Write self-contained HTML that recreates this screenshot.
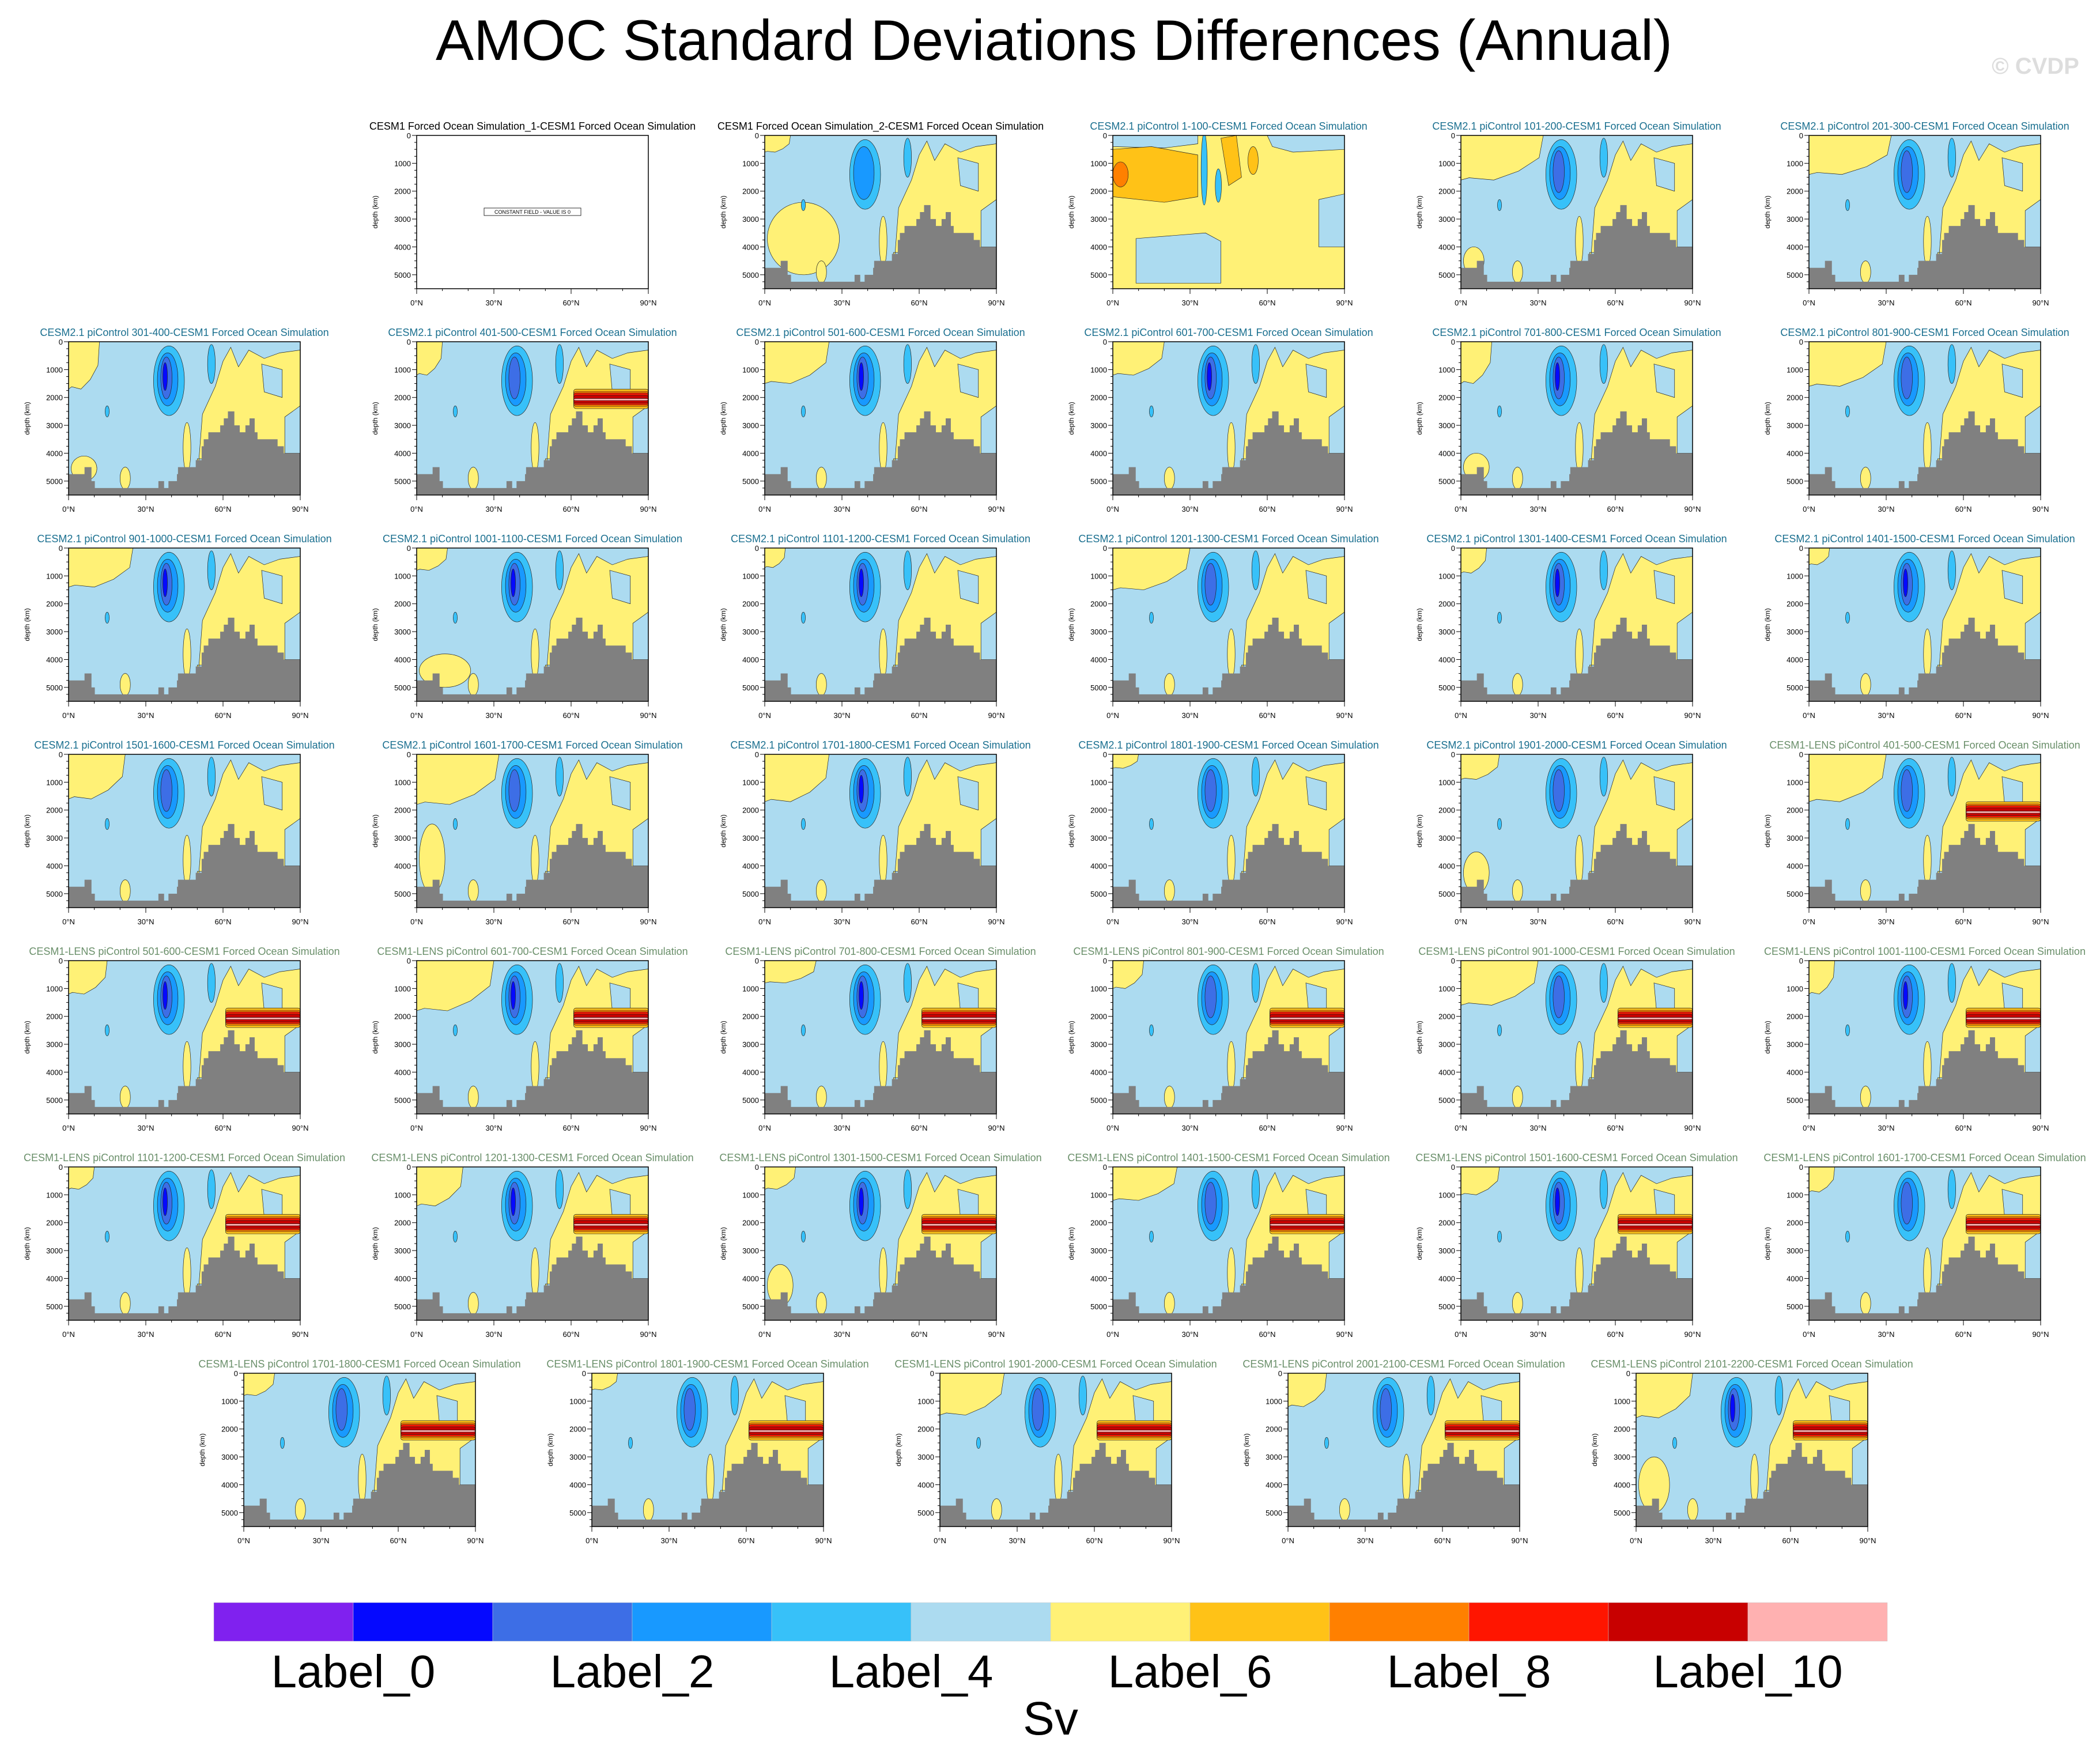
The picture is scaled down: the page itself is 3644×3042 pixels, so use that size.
<!DOCTYPE html>
<html><head><meta charset="utf-8">
<style>
html,body{margin:0;padding:0;background:#fff;}
svg{display:block;font-family:"Liberation Sans",Arial,sans-serif;}
</style></head>
<body>
<svg id="fig" width="3644" height="3042" viewBox="0 0 3644 3042" xmlns="http://www.w3.org/2000/svg">
<rect x="0" y="0" width="3644" height="3042" fill="#fff"/>
<text x="1829" y="104" font-size="99" text-anchor="middle" textLength="2146" lengthAdjust="spacingAndGlyphs">AMOC Standard Deviations Differences (Annual)</text>
<text x="3532" y="128" font-size="40" font-weight="bold" fill="#dddddd" text-anchor="middle">© CVDP</text>
<g id="panels"></g>
<g id="cbar"></g>
</svg>
<script>
// ---- data ----
const panelTitles = [
"CESM1 Forced Ocean Simulation_1-CESM1 Forced Ocean Simulation",
"CESM1 Forced Ocean Simulation_2-CESM1 Forced Ocean Simulation",
"CESM2.1 piControl 1-100-CESM1 Forced Ocean Simulation",
"CESM2.1 piControl 101-200-CESM1 Forced Ocean Simulation",
"CESM2.1 piControl 201-300-CESM1 Forced Ocean Simulation",
"CESM2.1 piControl 301-400-CESM1 Forced Ocean Simulation",
"CESM2.1 piControl 401-500-CESM1 Forced Ocean Simulation",
"CESM2.1 piControl 501-600-CESM1 Forced Ocean Simulation",
"CESM2.1 piControl 601-700-CESM1 Forced Ocean Simulation",
"CESM2.1 piControl 701-800-CESM1 Forced Ocean Simulation",
"CESM2.1 piControl 801-900-CESM1 Forced Ocean Simulation",
"CESM2.1 piControl 901-1000-CESM1 Forced Ocean Simulation",
"CESM2.1 piControl 1001-1100-CESM1 Forced Ocean Simulation",
"CESM2.1 piControl 1101-1200-CESM1 Forced Ocean Simulation",
"CESM2.1 piControl 1201-1300-CESM1 Forced Ocean Simulation",
"CESM2.1 piControl 1301-1400-CESM1 Forced Ocean Simulation",
"CESM2.1 piControl 1401-1500-CESM1 Forced Ocean Simulation",
"CESM2.1 piControl 1501-1600-CESM1 Forced Ocean Simulation",
"CESM2.1 piControl 1601-1700-CESM1 Forced Ocean Simulation",
"CESM2.1 piControl 1701-1800-CESM1 Forced Ocean Simulation",
"CESM2.1 piControl 1801-1900-CESM1 Forced Ocean Simulation",
"CESM2.1 piControl 1901-2000-CESM1 Forced Ocean Simulation",
"CESM1-LENS piControl 401-500-CESM1 Forced Ocean Simulation",
"CESM1-LENS piControl 501-600-CESM1 Forced Ocean Simulation",
"CESM1-LENS piControl 601-700-CESM1 Forced Ocean Simulation",
"CESM1-LENS piControl 701-800-CESM1 Forced Ocean Simulation",
"CESM1-LENS piControl 801-900-CESM1 Forced Ocean Simulation",
"CESM1-LENS piControl 901-1000-CESM1 Forced Ocean Simulation",
"CESM1-LENS piControl 1001-1100-CESM1 Forced Ocean Simulation",
"CESM1-LENS piControl 1101-1200-CESM1 Forced Ocean Simulation",
"CESM1-LENS piControl 1201-1300-CESM1 Forced Ocean Simulation",
"CESM1-LENS piControl 1301-1500-CESM1 Forced Ocean Simulation",
"CESM1-LENS piControl 1401-1500-CESM1 Forced Ocean Simulation",
"CESM1-LENS piControl 1501-1600-CESM1 Forced Ocean Simulation",
"CESM1-LENS piControl 1601-1700-CESM1 Forced Ocean Simulation",
"CESM1-LENS piControl 1701-1800-CESM1 Forced Ocean Simulation",
"CESM1-LENS piControl 1801-1900-CESM1 Forced Ocean Simulation",
"CESM1-LENS piControl 1901-2000-CESM1 Forced Ocean Simulation",
"CESM1-LENS piControl 2001-2100-CESM1 Forced Ocean Simulation",
"CESM1-LENS piControl 2101-2200-CESM1 Forced Ocean Simulation"];
const yTopLat   = [0,10,0,32,32,12,10,25,20,12,30,25,12,8,30,10,8,22,32,25,10,15,30,15,30,20,12,30,10,10,18,12,25,15,10,12,10,25,15,22];
const yTopDepth = [0,600,0,1600,1400,1700,1200,1500,1200,1500,1600,1400,800,700,1500,900,600,1600,1800,1700,500,900,1700,1200,1800,800,1000,1600,1200,800,1400,800,1200,1000,900,800,600,1500,1200,1600];
const yBotLat   = [0,28,0,8,0,10,0,0,0,10,0,0,20,0,0,0,0,0,10,0,0,10,0,0,0,0,0,0,0,0,0,10,0,0,0,0,0,0,0,12];
const yBotDepth = [0,2600,0,1000,0,900,0,0,0,1000,0,0,1200,0,0,0,0,0,2500,0,0,1500,0,0,0,0,0,0,0,0,0,1500,0,0,0,0,0,0,0,2000];
const redBand   = [0,0,0,0,0,0,1,0,0,0,0,0,0,0,0,0,0,0,0,0,0,0,1,1,1,1,1,1,1,1,1,1,1,1,1,1,1,1,1,1];
const coreLevels= [0,2,1,3,3,4,3,4,4,4,3,4,4,4,3,4,4,3,3,4,3,3,3,4,4,4,3,3,4,4,4,4,3,4,3,3,3,3,3,4];
const bathLat   = [0,6.2,8.9,10.2,34.9,37.1,38.8,42.1,42.5,49.4,51.7,52.5,54.3,58.9,60.3,61.9,64.4,66.5,68.7,70.3,72.3,73.4,81.2,83.6,90];
const bathDepth = [4750,4500,5000,5250,5000,5250,5000,4750,4500,4250,3750,3500,3250,3000,2750,2500,3000,3250,3000,2750,3250,3500,3750,4000];
const yTicks = [0,1000,2000,3000,4000,5000];
const xTicks = [0,30,60,90];
const cbColors = ["#8021ef","#0509ff","#3d6ee6","#1899ff","#37c1f9","#acdbf0","#fff176","#ffc217","#ff8000","#ff1500","#c80000","#ffb1b1"];
const cbLabels = ["Label_0","Label_2","Label_4","Label_6","Label_8","Label_10"];

// ---- layout ----
const PW=402, PH=266, DMAX=5500;
const rowTops=[235,593,951,1309,1667,2025,2383];
const colLefts=[119,723,1327,1931,2535,3139];
const lastLefts=[423,1027,1631,2235,2839];
const titleColors=["#000000","#1a6f8f","#6a8f6a"];
const NS="http://www.w3.org/2000/svg";
function mk(tag,attrs,parent){const e=document.createElementNS(NS,tag);for(const k in attrs)e.setAttribute(k,attrs[k]);parent.appendChild(e);return e;}

const positions=[];
for(let c=1;c<6;c++)positions.push([colLefts[c],rowTops[0]]);
for(let r=1;r<6;r++)for(let c=0;c<6;c++)positions.push([colLefts[c],rowTops[r]]);
for(let c=0;c<5;c++)positions.push([lastLefts[c],rowTops[6]]);

const panelsG=document.getElementById('panels');
panelTitles.forEach((t,i)=>{
  const [L,T]=positions[i];
  const X=lat=>L+lat/90*PW, Y=d=>T+d/DMAX*PH;
  const g=mk('g',{},panelsG);
  
  
  const grp=t.startsWith('CESM2')?1:(t.startsWith('CESM1-LENS')?2:0);
  const tt=mk('text',{x:L+PW/2,y:T-10,'font-size':18,'text-anchor':'middle',fill:titleColors[grp]},g);
  tt.textContent=t;
  
  
  const clipId='clip'+i;
  const cp=mk('clipPath',{id:clipId},g); mk('rect',{x:L,y:T,width:PW,height:PH},cp);
  const f=mk('g',{'clip-path':'url(#'+clipId+')'},g);
  
  
  const ln={stroke:'#222','stroke-width':0.7};
  const ell=(lat,d,rl,rd,col)=>mk('ellipse',Object.assign({cx:X(lat),cy:Y(d),rx:rl/90*PW,ry:rd/DMAX*PH,fill:col},ln),f);
  const poly=(pts,col)=>mk('polygon',Object.assign({points:pts.map(p=>X(p[0])+','+Y(p[1])).join(' '),fill:col},ln),f);
  if(i===0){
    mk('rect',{x:L,y:T,width:PW,height:PH,fill:'#fff'},f);
    mk('rect',{x:L+PW/2-84,y:T+PH/2-7,width:168,height:13,fill:'#fff',stroke:'#000','stroke-width':0.8},g);
    const ct=mk('text',{x:L+PW/2,y:T+PH/2+3,'font-size':9,'text-anchor':'middle'},g);
    ct.textContent='CONSTANT FIELD - VALUE IS 0';
    
    
  } else if(t.indexOf(' 1-100-')>0){
    mk('rect',{x:L,y:T,width:PW,height:PH,fill:'#fff176'},f);
    poly([[0,0],[33,0],[33,300],[20,450],[0,400]],'#acdbf0');
    poly([[9,3700],[36,3500],[42,3800],[42,5300],[9,5300]],'#acdbf0');
    poly([[80,2300],[90,2100],[90,4000],[80,4000]],'#acdbf0');
    poly([[60,0],[90,0],[90,500],[70,600],[62,400]],'#acdbf0');
    poly([[0,500],[15,400],[33,700],[33,2200],[20,2400],[0,2200]],'#ffc217');
    ell(3,1400,3,450,'#ff8000');
    poly([[42,100],[48,0],[50,1500],[45,1800]],'#ffc217');
    ell(54.5,900,2,500,'#ffc217');
    ell(35.5,1200,1.2,1300,'#37c1f9');
    ell(41,1800,1.2,600,'#37c1f9');
  } else {
    mk('rect',{x:L,y:T,width:PW,height:PH,fill:'#acdbf0'},f);
    poly([[50,5000],[52,2600],[57,1600],[60,700],[63,200],[66,900],[70,300],[76,600],[82,400],[90,300],[90,4200],[50,4200]],'#fff176');
    poly([[75,800],[83,1000],[83,2000],[76,1800]],'#acdbf0');
    poly([[84,2700],[90,2300],[90,4000],[84,4000]],'#acdbf0');
    const a=yTopLat[i], b=yTopDepth[i];
    if(a>0) poly([[0,0],[a,0],[a*0.95,b*0.5],[a*0.7,b*0.8],[a*0.4,b],[a*0.1,b*0.95],[0,b]],'#fff176');
    const c=yBotLat[i], e=yBotDepth[i];
    if(c>0) ell(c/2+1,5000-e/2,c/2,e/2,'#fff176');
    ell(46,3800,1.5,900,'#fff176');
    ell(22,4900,2,400,'#fff176');
    const lv=coreLevels[i];
    if(lv>=1){ ell(39,1400,6,1250,'#37c1f9'); ell(55.5,800,1.5,700,'#37c1f9'); }
    if(lv>=2) ell(38.5,1350,4,950,'#1899ff');
    if(lv>=3) ell(38,1300,2.2,750,'#3d6ee6');
    if(lv>=4) ell(37.5,1250,0.9,500,'#0509ff');
    ell(15,2500,0.8,200,'#37c1f9');
    if(redBand[i]){
      const bd=[[1700,2400,'#ffc217'],[1780,2320,'#ff8000'],[1840,2260,'#ff1500'],[1920,2200,'#c80000'],[2040,2110,'#ffb1b1']];
      bd.forEach(([d0,d1,col])=>mk('rect',Object.assign({x:X(61),y:Y(d0),width:X(90)-X(61),height:Y(d1)-Y(d0),fill:col,rx:4},ln),f));
    }
    let pts=[[X(0),Y(DMAX)]];
    for(let k=0;k<bathDepth.length;k++){pts.push([X(bathLat[k]),Y(bathDepth[k])]);pts.push([X(bathLat[k+1]),Y(bathDepth[k])]);}
    pts.push([X(90),Y(DMAX)]);
    const bp=mk('polygon',{points:pts.map(p=>p.join(',')).join(' '),fill:'#808080'},f);
    
    
  }
  mk('rect',{x:L,y:T,width:PW,height:PH,fill:'none',stroke:'#000','stroke-width':1.5},g);
  for(let d=0;d<=DMAX;d+=250){const maj=d%1000===0;mk('line',{x1:L,x2:L-(maj?8:4),y1:Y(d),y2:Y(d),stroke:'#000','stroke-width':1},g);}
  yTicks.forEach(v=>{const tx=mk('text',{x:L-10,y:Y(v)+5,'font-size':13,'text-anchor':'end'},g);tx.textContent=v;});
  const yl=mk('text',{x:0,y:0,'font-size':12,'text-anchor':'middle',transform:'translate('+(L-68)+','+(T+PH/2)+') rotate(-90)'},g);
  yl.textContent='depth (km)';
  
  
  for(let la=0;la<=90;la+=10){mk('line',{x1:X(la),x2:X(la),y1:T+PH,y2:T+PH+4,stroke:'#000','stroke-width':1},g);}
  xTicks.forEach(v=>{mk('line',{x1:X(v),x2:X(v),y1:T+PH,y2:T+PH+9,stroke:'#000','stroke-width':1},g);
    const tx=mk('text',{x:X(v),y:T+PH+29,'font-size':13,'text-anchor':'middle'},g);tx.textContent=v+'°N';
    });
});

const cb=document.getElementById('cbar');


const CBX=371, CBW=242, CBY=2781, CBH=67;
cbColors.forEach((col,k)=>{const r=mk('rect',{x:CBX+k*CBW,y:CBY,width:CBW,height:CBH,fill:col,stroke:'#ccc','stroke-width':0.5},cb);
  });
cbLabels.forEach((lab,k)=>{const tx=mk('text',{x:CBX+(2*k+1)*CBW,y:2928,'font-size':80,'text-anchor':'middle'},cb);tx.textContent=lab;
  });
const sv=mk('text',{x:1823,y:3010,'font-size':82,'text-anchor':'middle'},cb);
sv.textContent='Sv';


</script>
</body></html>
